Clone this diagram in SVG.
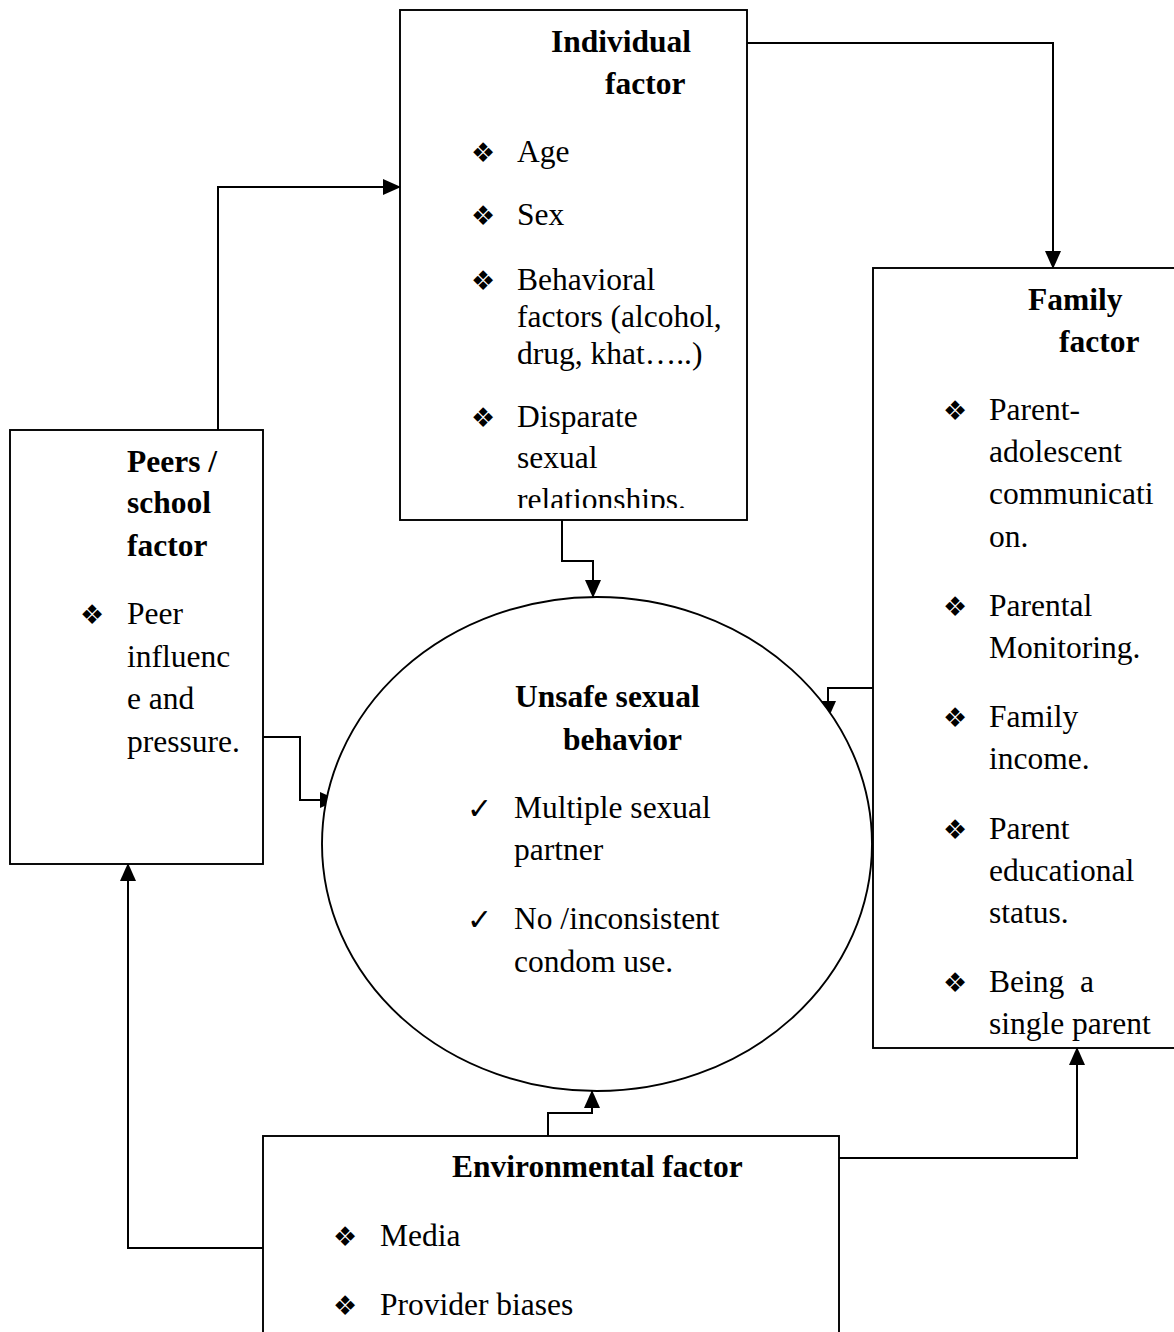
<svg xmlns="http://www.w3.org/2000/svg" width="1174" height="1332" viewBox="0 0 1174 1332">
<style>
.box{fill:#fff;stroke:#000;stroke-width:1.9}
.t{font-family:"Liberation Serif","Times New Roman",serif;font-size:31.5px;fill:#000;white-space:pre}
.b{font-weight:bold}
.bul{font-family:"DejaVu Sans",sans-serif;font-size:27px;fill:#000}
.chk{font-family:"DejaVu Sans",sans-serif;font-size:30px;fill:#000}
.c{fill:none;stroke:#000;stroke-width:2}
</style>
<defs>
<marker id="ah" markerUnits="userSpaceOnUse" viewBox="0 0 18 16" markerWidth="18" markerHeight="16" refX="17" refY="8" orient="auto">
<path d="M0,0 L18,8 L0,16 z" fill="#000"/>
</marker>
<clipPath id="clipInd"><rect x="400" y="10" width="347" height="498"/></clipPath>
</defs>
<rect width="1174" height="1332" fill="#fff"/>

<g id="connectors">
<path class="c" d="M747,43 H1053 V268" marker-end="url(#ah)"/>
<path class="c" d="M218,430 V187 H400" marker-end="url(#ah)"/>
<path class="c" d="M562,520 V561 H593 V597" marker-end="url(#ah)"/>
<path class="c" d="M873,688 H828 V718" marker-end="url(#ah)"/>
<path class="c" d="M263,737 H300 V800 H337" marker-end="url(#ah)"/>
<path class="c" d="M548,1136 V1113 H592 V1091" marker-end="url(#ah)"/>
<path class="c" d="M839,1158 H1077 V1048" marker-end="url(#ah)"/>
<path class="c" d="M263,1248 H128 V864" marker-end="url(#ah)"/>
</g>

<g id="individual">
<rect class="box" x="400" y="10" width="347" height="510"/>
<g clip-path="url(#clipInd)">
<text class="t b" x="551" y="52">Individual</text>
<text class="t b" x="605" y="94">factor</text>
<text class="bul" x="471" y="162">❖</text>
<text class="t" x="517" y="162">Age</text>
<text class="bul" x="471" y="225">❖</text>
<text class="t" x="517" y="225">Sex</text>
<text class="bul" x="471" y="290">❖</text>
<text class="t" x="517" y="290">Behavioral</text>
<text class="t" x="517" y="327">factors (alcohol,</text>
<text class="t" x="517" y="364">drug, khat…..)</text>
<text class="bul" x="471" y="427">❖</text>
<text class="t" x="517" y="427">Disparate</text>
<text class="t" x="517" y="468">sexual</text>
<text class="t" x="517" y="510">relationships.</text>
</g>
</g>

<g id="family">
<rect class="box" x="873" y="268" width="320" height="780"/>
<text class="t b" x="1028" y="310">Family</text>
<text class="t b" x="1059" y="352">factor</text>
<text class="bul" x="943" y="420">❖</text>
<text class="t" x="989" y="420">Parent-</text>
<text class="t" x="989" y="462">adolescent</text>
<text class="t" x="989" y="504">communicati</text>
<text class="t" x="989" y="547">on.</text>
<text class="bul" x="943" y="616">❖</text>
<text class="t" x="989" y="616">Parental</text>
<text class="t" x="989" y="658">Monitoring.</text>
<text class="bul" x="943" y="727">❖</text>
<text class="t" x="989" y="727">Family</text>
<text class="t" x="989" y="769">income.</text>
<text class="bul" x="943" y="839">❖</text>
<text class="t" x="989" y="839">Parent</text>
<text class="t" x="989" y="881">educational</text>
<text class="t" x="989" y="923">status.</text>
<text class="bul" x="943" y="992">❖</text>
<text class="t" x="989" y="992">Being  a</text>
<text class="t" x="989" y="1034">single parent</text>
</g>

<g id="peers">
<rect class="box" x="10" y="430" width="253" height="434"/>
<text class="t b" x="127" y="472">Peers /</text>
<text class="t b" x="127" y="513">school</text>
<text class="t b" x="127" y="556">factor</text>
<text class="bul" x="80" y="624">❖</text>
<text class="t" x="127" y="624">Peer</text>
<text class="t" x="127" y="667">influenc</text>
<text class="t" x="127" y="709">e and</text>
<text class="t" x="127" y="752">pressure.</text>
</g>

<g id="unsafe">
<ellipse class="box" cx="597" cy="844" rx="275" ry="247"/>
<text class="t b" x="515" y="707">Unsafe sexual</text>
<text class="t b" x="563" y="750">behavior</text>
<text class="chk" x="467" y="819">✓</text>
<text class="t" x="514" y="818">Multiple sexual</text>
<text class="t" x="514" y="860">partner</text>
<text class="chk" x="467" y="930">✓</text>
<text class="t" x="514" y="929">No /inconsistent</text>
<text class="t" x="514" y="972">condom use.</text>
</g>

<g id="environmental">
<rect class="box" x="263" y="1136" width="576" height="220"/>
<text class="t b" x="452" y="1177">Environmental factor</text>
<text class="bul" x="333" y="1246">❖</text>
<text class="t" x="380" y="1246">Media</text>
<text class="bul" x="333" y="1315">❖</text>
<text class="t" x="380" y="1315">Provider biases</text>
</g>
</svg>
